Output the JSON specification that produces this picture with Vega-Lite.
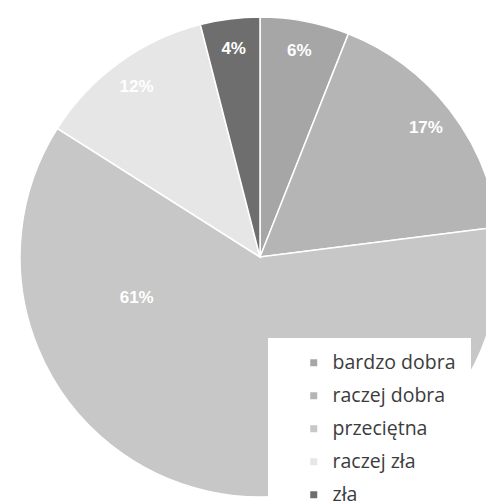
{
  "$schema": "https://vega.github.io/schema/vega-lite/v6.json",
  "autosize": "none",
  "padding": {"left": 34, "top": 13, "right": 0, "bottom": 0},
  "width": 452,
  "height": 488,
  "background": "white",
  "config": {"view": {"stroke": null}},
  "data": {
    "values": [
      {"ocena": "bardzo dobra", "procent": 6, "etykieta": "6%", "kolejnosc": 1},
      {"ocena": "raczej dobra", "procent": 17, "etykieta": "17%", "kolejnosc": 2},
      {"ocena": "przeciętna", "procent": 61, "etykieta": "61%", "kolejnosc": 3},
      {"ocena": "raczej zła", "procent": 12, "etykieta": "12%", "kolejnosc": 4},
      {"ocena": "zła", "procent": 4, "etykieta": "4%", "kolejnosc": 5}
    ]
  },
  "encoding": {
    "theta": {"field": "procent", "type": "quantitative", "stack": true},
    "order": {"field": "kolejnosc", "type": "quantitative", "sort": "ascending"}
  },
  "layer": [
    {
      "mark": {"type": "arc", "outerRadius": 240, "stroke": "white", "strokeWidth": 1.5},
      "encoding": {
        "color": {
          "field": "ocena",
          "type": "nominal",
          "scale": {
            "domain": ["bardzo dobra", "raczej dobra", "przeciętna", "raczej zła", "zła"],
            "range": ["#a6a6a6", "#b5b5b5", "#c7c7c7", "#e6e6e6", "#6e6e6e"]
          },
          "legend": {
            "title": null,
            "orient": "none",
            "legendX": 234,
            "legendY": 325,
            "fillColor": "white",
            "padding": 15,
            "symbolOffset": 21,
            "symbolType": "square",
            "symbolSize": 49,
            "symbolStrokeWidth": 0,
            "labelFont": "Open Sans",
            "labelFontSize": 19.5,
            "labelColor": "#3c3c3c",
            "labelOffset": 9,
            "rowPadding": 12,
            "labelLimit": 400,
            "labelExpr": "datum.label + '\u00a0\u00a0\u00a0\u00a0\u00a0\u00a0\u00a0'"
          }
        }
      }
    },
    {
      "mark": {"type": "text", "radius": 210, "fill": "white", "font": "Liberation Sans", "fontWeight": "bold", "fontSize": 17},
      "encoding": {
        "text": {"field": "etykieta", "type": "nominal"},
        "opacity": {"condition": {"test": "datum.procent == 61", "value": 0}, "value": 1}
      }
    },
    {
      "mark": {"type": "text", "radius": 130, "thetaOffset": 1.028, "fill": "white", "font": "Liberation Sans", "fontWeight": "bold", "fontSize": 17},
      "encoding": {
        "text": {"field": "etykieta", "type": "nominal"},
        "opacity": {"condition": {"test": "datum.procent == 61", "value": 1}, "value": 0}
      }
    }
  ]
}
